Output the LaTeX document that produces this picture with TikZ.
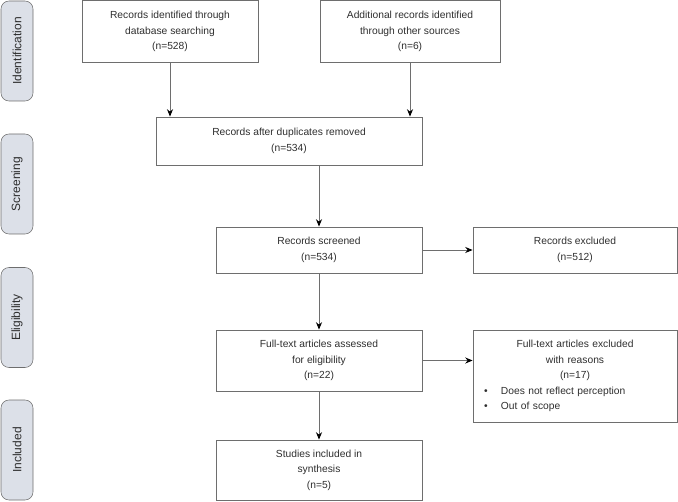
\documentclass[tikz,border=0pt]{standalone}
\usepackage{fontspec}
\setmainfont{Liberation Sans}
\usetikzlibrary{arrows.meta}

\definecolor{stagefill}{HTML}{DCE0E8}
\definecolor{linegray}{HTML}{6E6E6E}
\definecolor{textgray}{HTML}{2E2E2E}

\tikzset{
  stagebox/.style={draw=linegray, fill=stagefill, rounded corners=6pt, rotate=90,
    minimum width=75pt, minimum height=24pt, inner sep=0pt, text=textgray,
    font=\fontsize{9}{11}\selectfont},
  recbox/.style={draw=linegray, line width=0.6pt, inner sep=0pt, align=center,
    text=textgray, font=\fontsize{7.7}{11.6}\selectfont},
  arr/.style={draw=linegray, line width=0.7pt, -{Stealth[length=5.5pt,width=4.5pt,black]}}
}

\begin{document}
\begin{tikzpicture}[x=0.75pt,y=-0.75pt]
\useasboundingbox (0,0) rectangle (678,502);

% stage labels on the left
\node[stagebox] (ident) at (17,51) {Identification};
\node[stagebox] (screen) at (17,184) {Screening};
\node[stagebox] (elig) at (17,317.5) {Eligibility};
\node[stagebox] (incl) at (17,450) {Included};

% identification
\node[recbox, minimum width=132pt, minimum height=46pt] (dbrec) at (170,31.5)
  {Records identified through\\database searching\\(n=528)};
\node[recbox, minimum width=135pt, minimum height=46pt] (otherrec) at (410,31.5)
  {Additional records identified\\through other sources\\(n=6)};

% screening
\node[recbox, minimum width=199.5pt, minimum height=36pt] (dedup) at (289,141)
  {Records after duplicates removed\\(n=534)};
\node[recbox, minimum width=154.5pt, minimum height=34.5pt] (screened) at (319,250)
  {Records screened\\(n=534)};
\node[recbox, minimum width=153pt, minimum height=34.5pt] (excl) at (575,250)
  {Records excluded\\(n=512)};

% eligibility
\node[recbox, minimum width=154.5pt, minimum height=45.75pt] (fulltext) at (319,360.5)
  {Full-text articles assessed\\for eligibility\\(n=22)};
\node[recbox, minimum height=69pt, text width=136.5pt, inner xsep=8.25pt, align=left] (exclft) at (575,376)
  {\centering Full-text articles excluded\\with reasons\\(n=17)\par
   \raggedright\textbullet\hspace{10pt}Does not reflect perception\\
   \textbullet\hspace{10pt}Out of scope\par};

% included
\node[recbox, minimum width=154.5pt, minimum height=45pt] (synth) at (319,470)
  {Studies included in\\synthesis\\(n=5)};

% connectors
\draw[arr] (dbrec.south) -- (dbrec.south |- dedup.north);
\draw[arr] (otherrec.south) -- (otherrec.south |- dedup.north);
\draw[arr] (screened.north |- dedup.south) -- (screened.north);
\draw[arr] (screened.east) -- (excl.west);
\draw[arr] (screened.south) -- (fulltext.north);
\draw[arr] (fulltext.east) -- (fulltext.east -| exclft.west);
\draw[arr] (fulltext.south) -- (synth.north);
\end{tikzpicture}
\end{document}
